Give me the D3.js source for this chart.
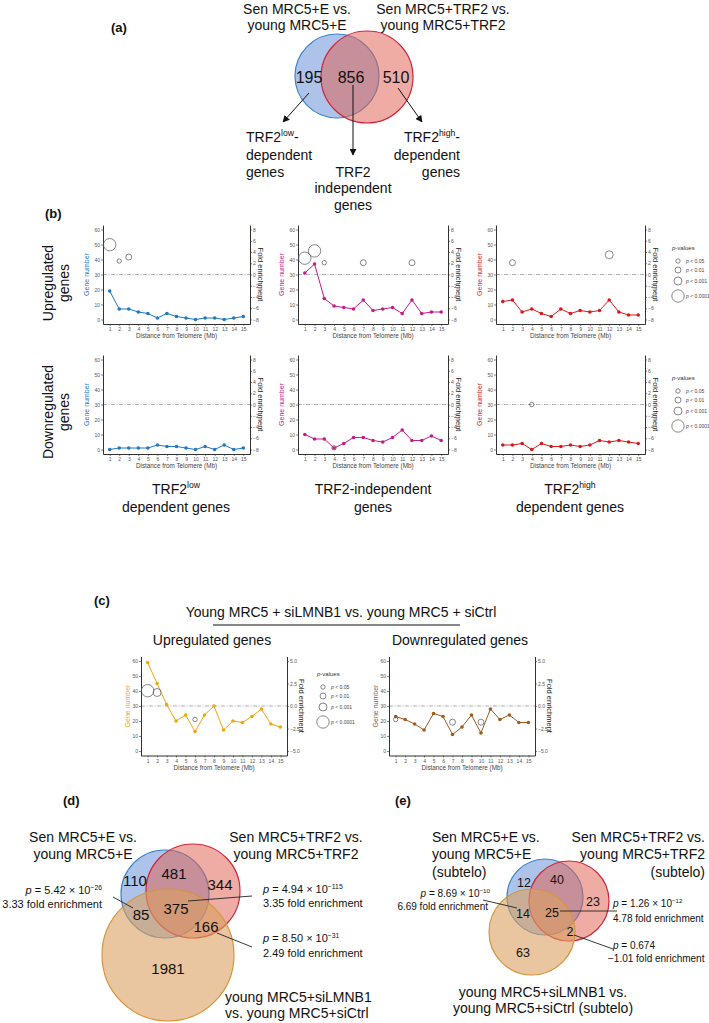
<!DOCTYPE html>
<html><head><meta charset="utf-8">
<script src="https://cdn.jsdelivr.net/npm/d3@7"></script>
<style>body{margin:0;background:#fff}svg{display:block}text{font-family:"Liberation Sans",Arial,Helvetica,sans-serif}</style>
</head><body><svg id="c" width="709" height="1023"></svg>
<script>
// ---------- data ----------
const distanceMb = [1,2,3,4,5,6,7,8,9,10,11,12,13,14,15];
const geneTicks = [0,10,20,30,40,50,60];
const foldTicksB = [-8,-6,-4,-2,0,2,4,6,8];
const foldTicksC = [-5,-2.5,0,2.5,5];
const pLabels = ["0.05","0.01","0.001","0.0001"];

const upLow   = [19,7,7,5,4,1,4,2,1,0,1,1,0,1,2];
const upIndep = [31,37,14,9,8,7,13,6,7,8,4,13,4,5,5];
const upHigh  = [12,13,5,7,4,2,7,4,6,5,6,13,5,3,3];
const downLow   = [0,1,1,1,1,3,2,2,1,0,2,0,3,0,1];
const downIndep = [10,7,7,1,4,8,8,6,5,8,13,6,6,9,6];
const downHigh  = [3,3,4,0,4,2,2,3,2,3,6,5,6,5,4];
// significant bins: [distance, fold enrichment, p-level (1:<0.05 .. 4:<0.0001)]
const sigUpLow   = [[1,5.3,4],[2,2.4,1],[3,3.1,2]];
const sigUpIndep = [[1,2.9,4],[2,4.2,4],[3,2.1,1],[7,2.1,2],[12,2.1,2]];
const sigUpHigh  = [[2,2.1,2],[12,3.5,3]];
const sigDownLow   = [];
const sigDownIndep = [[4,-7.7,1]];
const sigDownHigh  = [[4,0,1]];

const siUp   = [59,45,31,20,24,13,24,30,14,20,19,23,28,18,16];
const siDown = [23,21,18,14,25,23,11,16,24,12,28,21,24,19,19];
const sigSiUp   = [[1,1.7,4],[2,1.5,3],[6,-1.5,1]];
const sigSiDown = [[1,-1.5,1],[7,-1.8,2],[10,-1.8,2]];

const vennACounts = [195, 856, 510];
const vennDCounts = [110, 481, 344, 85, 375, 166, 1981];
const vennECounts = [12, 40, 23, 14, 25, 2, 63];

// ---------- helpers ----------
const svg = d3.select("#c");
const defs = svg.append("defs");
defs.append("marker").attr("id","arr").attr("viewBox","0 0 10 10").attr("refX",9).attr("refY",5)
  .attr("markerWidth",7).attr("markerHeight",7).attr("orient","auto")
  .append("path").attr("d","M0,0L10,5L0,10z").attr("fill","#111");

function txt(parent, x, y, parts, o = {}) {
  const fs = o.size || 14;
  const t = parent.append("text").attr("x", x).attr("y", y).attr("font-size", fs)
    .attr("text-anchor", o.anchor || "start").attr("fill", o.fill || "#111");
  if (o.weight) t.attr("font-weight", o.weight);
  if (o.style) t.attr("font-style", o.style);
  if (o.transform) t.attr("transform", o.transform);
  if (typeof parts === "string") parts = [parts];
  let up = 0;
  parts.forEach(p => {
    if (typeof p === "string") p = {t: p};
    const s = t.append("tspan").text(p.t);
    if (p.sup) { s.attr("font-size", fs * 0.62).attr("dy", -fs * 0.4); up = fs * 0.4; }
    else if (up) { s.attr("dy", up); up = 0; }
    if (p.it) s.attr("font-style", "italic");
  });
  return t;
}

const rSig = d3.scaleOrdinal().domain([1,2,3,4]).range([2.2,3,4,6.2]);

function styleAxis(sel) {
  sel.select(".domain").attr("stroke","#333").attr("stroke-width",1);
  sel.selectAll(".tick line").attr("stroke","#333").attr("stroke-width",0.6);
  sel.selectAll(".tick text").attr("fill","#555").attr("font-size",5)
    .attr("font-family",'"Liberation Sans",Arial,sans-serif');
}

function lineChart(c) {
  const g = svg.append("g");
  const x = d3.scaleLinear().domain([0.3,15.7]).range([c.x0,c.x1]);
  const y = d3.scaleLinear().domain([-3,63]).range([c.bot,c.top]);
  const yf = d3.scaleLinear().domain(c.foldDomain).range([c.bot,c.top]);
  g.append("line").attr("x1",c.x0).attr("x2",c.x1).attr("y1",y(30)).attr("y2",y(30))
    .attr("stroke","#8c8c8c").attr("stroke-width",0.7).attr("stroke-dasharray","4,1.5,1,1.5");
  g.append("g").attr("transform",`translate(${c.x0},0)`)
    .call(d3.axisLeft(y).tickValues(geneTicks).tickSize(2).tickSizeOuter(0).tickPadding(1)).call(styleAxis);
  g.append("g").attr("transform",`translate(${c.x1},0)`)
    .call(d3.axisRight(yf).tickValues(c.foldTicks).tickFormat(d3.format(c.foldFmt)).tickSize(2).tickSizeOuter(0).tickPadding(1)).call(styleAxis);
  g.append("g").attr("transform",`translate(0,${c.bot})`)
    .call(d3.axisBottom(x).tickValues(distanceMb).tickSize(2).tickSizeOuter(0).tickPadding(1.5)).call(styleAxis);
  const line = d3.line().x((d,i) => x(distanceMb[i])).y(d => y(d));
  g.append("path").datum(c.values).attr("d",line).attr("fill","none").attr("stroke",c.color).attr("stroke-width",1);
  g.selectAll(".pt").data(c.values).join("circle").attr("cx",(d,i)=>x(distanceMb[i])).attr("cy",d=>y(d))
    .attr("r",1.8).attr("fill",c.color);
  g.selectAll(".sg").data(c.sig).join("circle").attr("cx",d=>x(d[0])).attr("cy",d=>yf(d[1]))
    .attr("r",d=>rSig(d[2])).attr("fill","none").attr("stroke","#555").attr("stroke-width",0.7);
  const cy = (c.top + c.bot) / 2;
  txt(g, c.x0 - c.gnOff, cy, "Gene number", {size:7, anchor:"middle", fill:c.color, transform:`rotate(-90,${c.x0 - c.gnOff},${cy})`});
  txt(g, c.x1 + c.feOff, cy, "Fold enrichment", {size:7.5, anchor:"middle", fill:"#222", transform:`rotate(90,${c.x1 + c.feOff},${cy})`});
  txt(g, (c.x0 + c.x1) / 2, c.bot + 14, "Distance from Telomere (Mb)", {size:6.3, anchor:"middle", fill:"#444"});
}

function legend(cx, top) {
  const g = svg.append("g");
  txt(g, cx - 6, top, [{t:"p",it:true},"-values"], {size:6, fill:"#333"});
  const rows = [top + 11, top + 20, top + 31, top + 46];
  pLabels.forEach((p, i) => {
    g.append("circle").attr("cx",cx).attr("cy",rows[i]).attr("r",rSig(i+1)).attr("fill","none").attr("stroke","#555").attr("stroke-width",0.7);
    txt(g, cx + 8, rows[i] + 1.8, [{t:"p",it:true}," < " + p], {size:5, fill:"#444"});
  });
}

// ---------- panel (a) ----------
const A = svg.append("g");
txt(A, 111, 32, "(a)", {size:13, weight:"bold"});
txt(A, 297, 14, "Sen MRC5+E vs.", {anchor:"middle"});
txt(A, 297, 30, "young MRC5+E", {anchor:"middle"});
txt(A, 443, 14, "Sen MRC5+TRF2 vs.", {anchor:"middle"});
txt(A, 443, 30, "young MRC5+TRF2", {anchor:"middle"});
A.append("circle").attr("cx",337).attr("cy",76).attr("r",42).attr("fill","rgba(105,145,215,0.55)").attr("stroke","#3a86c8").attr("stroke-width",1.2);
A.append("circle").attr("cx",367).attr("cy",77).attr("r",46).attr("fill","rgba(222,95,80,0.52)").attr("stroke","#d2243c").attr("stroke-width",1.2);
[[309,195],[351,856],[396,510]].forEach((d,i) => txt(A, d[0], 83, String(vennACounts[i]), {size:16, anchor:"middle"}));
[[309,93,283,122],[353,85,353,155],[398,88,422,122]].forEach(d =>
  A.append("line").attr("x1",d[0]).attr("y1",d[1]).attr("x2",d[2]).attr("y2",d[3]).attr("stroke","#111").attr("stroke-width",1).attr("marker-end","url(#arr)"));
txt(A, 246, 142, ["TRF2",{t:"low",sup:true},"-"]);
txt(A, 246, 160, "dependent");
txt(A, 246, 177, "genes");
txt(A, 353, 177, "TRF2", {anchor:"middle"});
txt(A, 353, 193, "independent", {anchor:"middle"});
txt(A, 353, 210, "genes", {anchor:"middle"});
txt(A, 460, 142, ["TRF2",{t:"high",sup:true},"-"], {anchor:"end"});
txt(A, 460, 160, "dependent", {anchor:"end"});
txt(A, 460, 177, "genes", {anchor:"end"});

// ---------- panel (b) ----------
txt(svg, 45, 218, "(b)", {size:13, weight:"bold"});
const cols = [[103,250],[298,448],[496,645]];
const rowsB = [{top:225,bot:324},{top:355,bot:454}];
const seriesB = [[upLow,upIndep,upHigh],[downLow,downIndep,downHigh]];
const sigB = [[sigUpLow,sigUpIndep,sigUpHigh],[sigDownLow,sigDownIndep,sigDownHigh]];
const colorsB = ["#1f78c1","#c51b8a","#d7191c"];
rowsB.forEach((r, ri) => cols.forEach((c, ci) => lineChart({
  x0:c[0], x1:c[1], top:r.top, bot:r.bot, values:seriesB[ri][ci], sig:sigB[ri][ci], color:colorsB[ci],
  foldDomain:[-8.8,8.8], foldTicks:foldTicksB, foldFmt:"d", gnOff:14, feOff:8})));
legend(678, 250);
legend(678, 380);
[["Upregulated","genes",283],["Downregulated","genes",412]].forEach(d => {
  txt(svg, 53, d[2], d[0], {anchor:"middle", transform:`rotate(-90,53,${d[2]})`});
  txt(svg, 69, d[2], d[1], {anchor:"middle", transform:`rotate(-90,69,${d[2]})`});
});
txt(svg, 176, 494, ["TRF2",{t:"low",sup:true}], {anchor:"middle"});
txt(svg, 176, 512, "dependent genes", {anchor:"middle"});
txt(svg, 373, 494, "TRF2-independent", {anchor:"middle"});
txt(svg, 373, 512, "genes", {anchor:"middle"});
txt(svg, 570, 494, ["TRF2",{t:"high",sup:true}], {anchor:"middle"});
txt(svg, 570, 512, "dependent genes", {anchor:"middle"});

// ---------- panel (c) ----------
txt(svg, 94, 605, "(c)", {size:13, weight:"bold"});
txt(svg, 341, 617, "Young MRC5 + siLMNB1 vs. young MRC5 + siCtrl", {anchor:"middle"});
svg.append("line").attr("x1",213).attr("x2",460).attr("y1",625).attr("y2",625).attr("stroke","#111").attr("stroke-width",1);
txt(svg, 212, 645, "Upregulated genes", {anchor:"middle"});
txt(svg, 460, 645, "Downregulated genes", {anchor:"middle"});
lineChart({x0:141, x1:287, top:656.5, bot:755.5, values:siUp, sig:sigSiUp, color:"#f0a70f",
  foldDomain:[-5.5,5.5], foldTicks:foldTicksC, foldFmt:".1f", gnOff:11, feOff:12});
lineChart({x0:389, x1:535, top:656.5, bot:755.5, values:siDown, sig:sigSiDown, color:"#9c5b1f",
  foldDomain:[-5.5,5.5], foldTicks:foldTicksC, foldFmt:".1f", gnOff:11, feOff:12});
legend(323, 676);

// ---------- panel (d) ----------
const D = svg.append("g");
txt(D, 63, 805, "(d)", {size:13, weight:"bold"});
txt(D, 83, 842, "Sen MRC5+E vs.", {anchor:"middle"});
txt(D, 83, 859, "young MRC5+E", {anchor:"middle"});
txt(D, 296, 842, "Sen MRC5+TRF2 vs.", {anchor:"middle"});
txt(D, 296, 859, "young MRC5+TRF2", {anchor:"middle"});
D.append("circle").attr("cx",165).attr("cy",894).attr("r",44).attr("fill","rgba(105,145,215,0.55)").attr("stroke","#3a86c8").attr("stroke-width",1.2);
D.append("circle").attr("cx",193).attr("cy",891).attr("r",47).attr("fill","rgba(222,95,80,0.52)").attr("stroke","#d2243c").attr("stroke-width",1.2);
D.append("circle").attr("cx",168).attr("cy",955).attr("r",66).attr("fill","rgba(218,160,95,0.6)").attr("stroke","#d4963a").attr("stroke-width",1.2);
const dPos = [[135,880],[174,873],[220,884],[141,914],[176,908],[206,926],[168,968]];
dPos.forEach((p,i) => txt(D, p[0], p[1] + 5.5, String(vennDCounts[i]), {size:15, anchor:"middle"}));
[[113,897,133,908],[188,901,252,896],[217,933,252,947]].forEach(d =>
  D.append("line").attr("x1",d[0]).attr("y1",d[1]).attr("x2",d[2]).attr("y2",d[3]).attr("stroke","#222").attr("stroke-width",0.9));
txt(D, 102, 894, [{t:"p",it:true}," = 5.42 × 10",{t:"−26",sup:true}], {size:11, anchor:"end"});
txt(D, 102, 908, "3.33 fold enrichment", {size:11, anchor:"end"});
txt(D, 263, 893, [{t:"p",it:true}," = 4.94 × 10",{t:"−115",sup:true}], {size:11});
txt(D, 263, 907, "3.35 fold enrichment", {size:11});
txt(D, 263, 942, [{t:"p",it:true}," = 8.50 × 10",{t:"−31",sup:true}], {size:11});
txt(D, 263, 957, "2.49 fold enrichment", {size:11});
txt(D, 225, 1002, "young MRC5+siLMNB1");
txt(D, 225, 1018, "vs. young MRC5+siCtrl");

// ---------- panel (e) ----------
const E = svg.append("g");
txt(E, 395, 805, "(e)", {size:13, weight:"bold"});
txt(E, 432, 842, "Sen MRC5+E vs.");
txt(E, 432, 859, "young MRC5+E");
txt(E, 432, 877, "(subtelo)");
txt(E, 705, 842, "Sen MRC5+TRF2 vs.", {anchor:"end"});
txt(E, 705, 859, "young MRC5+TRF2", {anchor:"end"});
txt(E, 705, 877, "(subtelo)", {anchor:"end"});
E.append("circle").attr("cx",545).attr("cy",897).attr("r",38).attr("fill","rgba(105,145,215,0.55)").attr("stroke","#3a86c8").attr("stroke-width",1.2);
E.append("circle").attr("cx",569).attr("cy",901).attr("r",40).attr("fill","rgba(222,95,80,0.52)").attr("stroke","#d2243c").attr("stroke-width",1.2);
E.append("circle").attr("cx",532).attr("cy",932).attr("r",43).attr("fill","rgba(218,160,95,0.6)").attr("stroke","#d4963a").attr("stroke-width",1.2);
const ePos = [[524,882],[557,879],[593,901],[523,913],[552,912],[570,931],[523,952]];
ePos.forEach((p,i) => txt(E, p[0], p[1] + 4.5, String(vennECounts[i]), {size:12.5, anchor:"middle"}));
[[483,900,517,908],[560,911,617,911],[574,935,613,949]].forEach(d =>
  E.append("line").attr("x1",d[0]).attr("y1",d[1]).attr("x2",d[2]).attr("y2",d[3]).attr("stroke","#222").attr("stroke-width",0.9));
txt(E, 490, 897, [{t:"p",it:true}," = 8.69 × 10",{t:"−10",sup:true}], {size:10, anchor:"end"});
txt(E, 488, 910, "6.69 fold enrichment", {size:10, anchor:"end"});
txt(E, 613, 907, [{t:"p",it:true}," = 1.26 × 10",{t:"−12",sup:true}], {size:10});
txt(E, 613, 922, "4.78 fold enrichment", {size:10});
txt(E, 613, 949, [{t:"p",it:true}," = 0.674"], {size:10});
txt(E, 608, 962, "−1.01 fold enrichment", {size:10});
txt(E, 543, 997, "young MRC5+siLMNB1 vs.", {anchor:"middle"});
txt(E, 543, 1013, "young MRC5+siCtrl (subtelo)", {anchor:"middle"});
</script></body></html>
